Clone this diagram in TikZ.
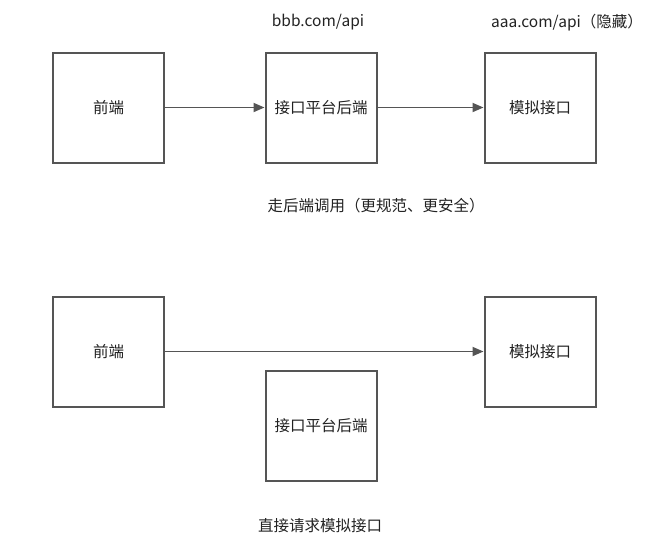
\documentclass[tikz,border=0pt]{standalone}
\usepackage{fontspec}
\setmainfont{Noto Sans CJK SC}
\usetikzlibrary{positioning}
\usetikzlibrary{arrows.meta}
\definecolor{linegray}{HTML}{555555}
\definecolor{textgray}{HTML}{222222}
\tikzset{
  box/.style={rectangle,draw=linegray,line width=2pt,fill=white,minimum width=111pt,minimum height=110pt,font=\fontsize{15.5pt}{18pt}\selectfont,text=textgray},
  lbl/.style={font=\fontsize{15.5pt}{18pt}\selectfont,text=textgray},
  conn/.style={draw=linegray,line width=1.8pt,-{Triangle[length=11pt,width=9pt]}}
}

\begin{document}
\begin{tikzpicture}[x=1pt,y=1pt]
\useasboundingbox (0,0) rectangle (668,-544);
% top row
\node[box] (fe1) at (108.5,-107.5) {前端};
\node[box] (be1) at (321,-107.5) {接口平台后端};
\node[box] (mk1) at (540,-107.5) {模拟接口};
\draw[conn] (fe1) -- (be1);
\draw[conn] (be1) -- (mk1);
\node[lbl] (url1) at (318,-22) {bbb.com/api};
\node[lbl] (url2) at (567,-23) {aaa.com/api（隐藏）};
\node[lbl] (cap1) at (376,-206) {走后端调用（更规范、更安全）};

% bottom row
\node[box] (fe2) at (108.5,-351.5) {前端};
\node[box] (mk2) at (540,-351.5) {模拟接口};
\node[box] (be2) at (321,-425.5) {接口平台后端};
\draw[conn] (fe2) -- (mk2);
\node[lbl] (cap2) at (320,-526) {直接请求模拟接口};

\end{tikzpicture}
\end{document}
